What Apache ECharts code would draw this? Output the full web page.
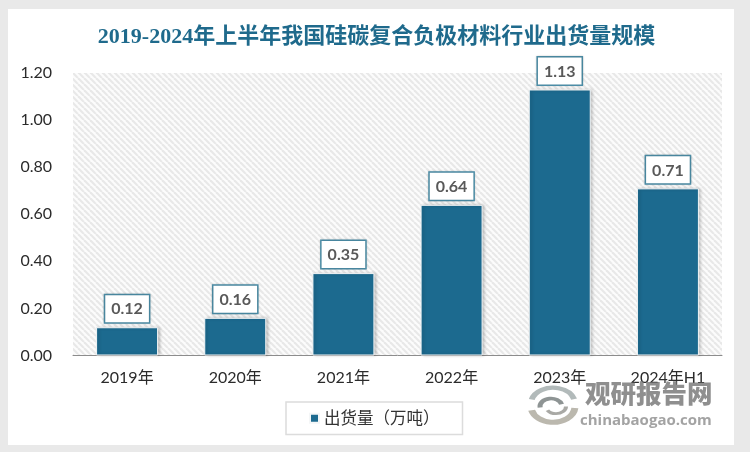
<!DOCTYPE html>
<html><head><meta charset="utf-8">
<style>html,body{margin:0;padding:0;background:#e9e9e9}#c{width:750px;height:452px}</style>
<script src="https://cdn.jsdelivr.net/npm/echarts@6/dist/echarts.min.js"></script></head>
<body><div id="c"></div>
<script>
const categories = ['2019年','2020年','2021年','2022年','2023年','2024年H1'];
const shipments = [0.12,0.16,0.35,0.64,1.13,0.71];
const seriesName = '出货量（万吨）';
const titleText = '2019-2024年上半年我国硅碳复合负极材料行业出货量规模';
const yTicks = {min:0,max:1.2,interval:0.2};

const tile = document.createElement('canvas');
tile.width = 6; tile.height = 6;
const t = tile.getContext('2d');
t.fillStyle = '#fcfcfc'; t.fillRect(0,0,6,6);
t.strokeStyle = '#e8e8e8'; t.lineWidth = 2.2;
for (let i=-6;i<=6;i+=6){ t.beginPath(); t.moveTo(i,0); t.lineTo(i+6,6); t.stroke(); }

const chart = echarts.init(document.getElementById('c'),null,{renderer:'canvas'});
const latin = 'Lato, "Noto Sans CJK SC", sans-serif';
chart.setOption({
  animation:false,
  backgroundColor:'#e9e9e9',
  title:{text:titleText,left:371.5,top:21,textAlign:'center',
    textStyle:{fontFamily:'"Liberation Serif","Noto Sans CJK SC",serif',fontSize:22,fontWeight:'bold',color:'#1f6a8c'}},
  grid:{left:73,right:28,top:73,bottom:96.5,show:true,borderWidth:0,backgroundColor:{image:tile,repeat:'repeat'}},
  legend:{left:286,top:402,padding:[8,23,8,23],itemWidth:9,itemHeight:9,itemGap:4,
    backgroundColor:'#fff',borderColor:'#dcdcdc',borderWidth:1.5,
    icon:'rect',textStyle:{fontFamily:latin,fontSize:16.5,color:'#333'}},
  xAxis:{type:'category',data:categories,
    axisLine:{lineStyle:{color:'#8c8c8c',width:1}},axisTick:{show:false},
    axisLabel:{fontFamily:latin,fontSize:16,color:'#2b2b2b',margin:14}},
  yAxis:{type:'value',min:yTicks.min,max:yTicks.max,interval:yTicks.interval,
    axisLine:{show:false},axisTick:{show:false},splitLine:{show:false},
    axisLabel:{fontFamily:latin,fontSize:16,color:'#2b2b2b',margin:21,formatter:v=>v.toFixed(2)}},
  series:[{name:seriesName,type:'bar',data:shipments,barWidth:62,
    itemStyle:{color:'#1c6a8f',borderColor:'#f4f6f7',borderWidth:1,shadowColor:'rgba(0,0,0,0.22)',shadowBlur:3,shadowOffsetX:2,shadowOffsetY:0},
    label:{show:true,position:'top',distance:5,formatter:p=>p.value.toFixed(2),
      fontFamily:latin,fontSize:16,fontWeight:'bold',color:'#595959',
      backgroundColor:'#fff',borderColor:'#4d8fa9',borderWidth:1.5,padding:[6,6,5,6],
      shadowColor:'rgba(0,0,0,0.2)',shadowBlur:2}}],
  graphic:[
    {type:'rect',z:-1,silent:true,shape:{x:8,y:9,width:726,height:436},style:{fill:'#fff'}},
    {type:'text',z:50,silent:true,style:{x:585,y:381,text:'观研报告网',fontFamily:'"Noto Sans CJK SC"',fontWeight:900,fontSize:25.5,fill:'rgba(115,115,115,0.8)'}},
    {type:'text',z:50,silent:true,style:{x:580,y:413,text:'chinabaogao.com',fontFamily:'"Open Sans"',fontWeight:'bold',fontSize:15,fill:'rgba(140,140,140,0.8)'}},
    {type:'group',z:50,silent:true,x:553,y:405,scaleY:0.72,children:[
      {type:'arc',shape:{cx:0,cy:-2,r:22,startAngle:3.4,endAngle:6.0,clockwise:true},style:{fill:'none',stroke:'rgba(170,178,178,0.9)',lineWidth:6}},
      {type:'arc',shape:{cx:0,cy:2,r:22,startAngle:0.1,endAngle:2.9,clockwise:true},style:{fill:'none',stroke:'rgba(180,176,165,0.9)',lineWidth:7}},
      {type:'arc',shape:{cx:-2,cy:2,r:11,startAngle:3,endAngle:6,clockwise:true},style:{fill:'none',stroke:'rgba(130,136,136,0.9)',lineWidth:5}},
      {type:'arc',shape:{cx:3,cy:2,r:10,startAngle:0,endAngle:2.6,clockwise:true},style:{fill:'none',stroke:'rgba(160,160,155,0.9)',lineWidth:4}}
    ]}
  ]
});
</script></body></html>
